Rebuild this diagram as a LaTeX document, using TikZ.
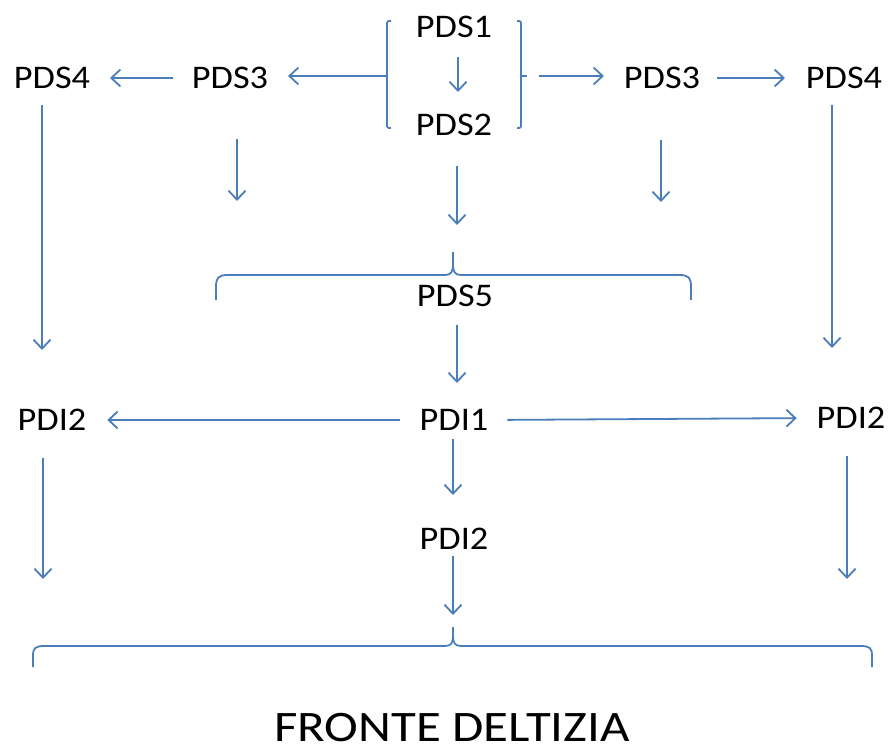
\documentclass[tikz,border=0pt]{standalone}
\usepackage{graphicx}
\usepackage{fontspec}
\setmainfont{Carlito}
\usetikzlibrary{arrows.meta,calc}
\definecolor{lineblue}{HTML}{4A7EBB}
\newcommand{\stretchtxt}[2][1.1]{\scalebox{#1}[1]{#2}}
\tikzset{
  lbl/.style={inner sep=0pt, outer sep=0pt, text height=21pt, text depth=0pt,
    font=\fontsize{33}{36}\selectfont, text=black},
  biglbl/.style={inner sep=0pt, outer sep=0pt, text height=28pt, text depth=0pt,
    font=\fontsize{43.5}{48}\selectfont, text=black},
  arr/.style={draw=lineblue, line width=1.8pt, -{Straight Barb[length=9pt,width=17pt,line width=1.8pt]}},
  bline/.style={draw=lineblue, line width=1.8pt},
}
\begin{document}
\begin{tikzpicture}[x=1pt,y=-1pt]
\useasboundingbox (0,0) rectangle (893,751);

% nodes
\node[lbl] (pds1) at (454,27.5) {\stretchtxt{PDS1}};
\node[lbl] (pds2) at (454,125) {\stretchtxt{PDS2}};
\node[lbl] (pds3l) at (230,78) {\stretchtxt{PDS3}};
\node[lbl] (pds4l) at (52,78) {\stretchtxt{PDS4}};
\node[lbl] (pds3r) at (662,78) {\stretchtxt{PDS3}};
\node[lbl] (pds4r) at (844,78) {\stretchtxt{PDS4}};
\node[lbl] (pds5) at (455,296) {\stretchtxt{PDS5}};
\node[lbl] (pdi1) at (454,420) {\stretchtxt{PDI1}};
\node[lbl] (pdi2l) at (52,420) {\stretchtxt{PDI2}};
\node[lbl] (pdi2r) at (851,418) {\stretchtxt{PDI2}};
\node[lbl] (pdi2m) at (454,539) {\stretchtxt{PDI2}};
\node[biglbl] (fronte) at (452,727) {\stretchtxt[1.17]{FRONTE DELTIZIA}};

% coordinates
\coordinate (bl) at (387,76);
\coordinate (br) at (527,76);
\coordinate (tip5) at (453,252);
\coordinate (tipb) at (453,627);
\coordinate (d3l) at (237,201);
\coordinate (d3r) at (661,202);
\coordinate (dl) at (43,579);
\coordinate (dr) at (847,579);

% top brackets
\draw[bline, rounded corners=2pt] (391,21) -- (387,21) -- (387,128) -- (391,128);
\draw[bline, rounded corners=2pt] (517,21) -- (521,21) -- (521,128) -- (517,128);
\draw[bline] (521,76) -- (br);

% middle brace
\draw[bline] (216,300) -- (216,287) .. controls (216,278) and (218,275) .. (228,275)
  -- (445,275) .. controls (451,275) and (453,272) .. (453,264) -- (tip5);
\draw[bline] (453,264) .. controls (453,272) and (455,275) .. (461,275)
  -- (679,275) .. controls (689,275) and (691,278) .. (691,287) -- (691,300);

% bottom brace
\draw[bline] (33,667) -- (33,656) .. controls (33,648) and (35,646) .. (45,646)
  -- (445,646) .. controls (451,646) and (453,643) .. (453,636) -- (tipb);
\draw[bline] (453,636) .. controls (453,643) and (455,646) .. (461,646)
  -- (860,646) .. controls (870,646) and (872,648) .. (872,656) -- (872,667);

% arrows
\draw[arr, shorten <=19pt, shorten >=22.5pt] ([xshift=4pt]pds1.south) -- ([xshift=4pt]pds2.north);
\draw[arr, shorten >=20pt] (bl) -- (pds3l.east |- bl);
\draw[arr, shorten <=12pt, shorten >=20pt] (br) -- (pds3r.west |- br);
\draw[arr, shorten <=19pt, shorten >=20pt] (pds3l.west) -- (pds4l.east);
\draw[arr, shorten <=17pt, shorten >=21pt] (pds3r.east) -- (pds4r.west);
\draw[arr, shorten <=51pt] (pds3l.south -| d3l) -- (d3l);
\draw[arr, shorten <=52pt] (pds3r.south -| d3r) -- (d3r);
\draw[arr, shorten <=31pt, shorten >=27pt] ([xshift=3pt]pds2.south) -- ([xshift=4pt]tip5);
\draw[arr, shorten <=16.5pt, shorten >=59.5pt] ([xshift=-10pt]pds4l.south) -- ([xshift=-10pt]pdi2l.north);
\draw[arr, shorten <=16.5pt, shorten >=59.5pt] ([xshift=-12pt]pds4r.south) -- ([xshift=-19pt]pdi2r.north);
\draw[arr, shorten <=18.5pt, shorten >=26.5pt] ([xshift=2pt]pds5.south) -- ([xshift=3pt]pdi1.north);
\draw[arr, shorten <=20pt, shorten >=21pt] (pdi1.west) -- (pdi2l.east);
\draw[arr, shorten <=19pt, shorten >=20pt] (pdi1.east) -- (pdi2r.west);
\draw[arr, shorten <=8pt, shorten >=33.5pt] ([xshift=-1pt]pdi1.south) -- ([xshift=-1pt]pdi2m.north);
\draw[arr, shorten <=6pt, shorten >=12pt] ([xshift=-1pt]pdi2m.south) -- (tipb);
\draw[arr, shorten <=27.5pt] (pdi2l.south -| dl) -- (dl);
\draw[arr, shorten <=27.5pt] (pdi2r.south -| dr) -- (dr);
\end{tikzpicture}
\end{document}
